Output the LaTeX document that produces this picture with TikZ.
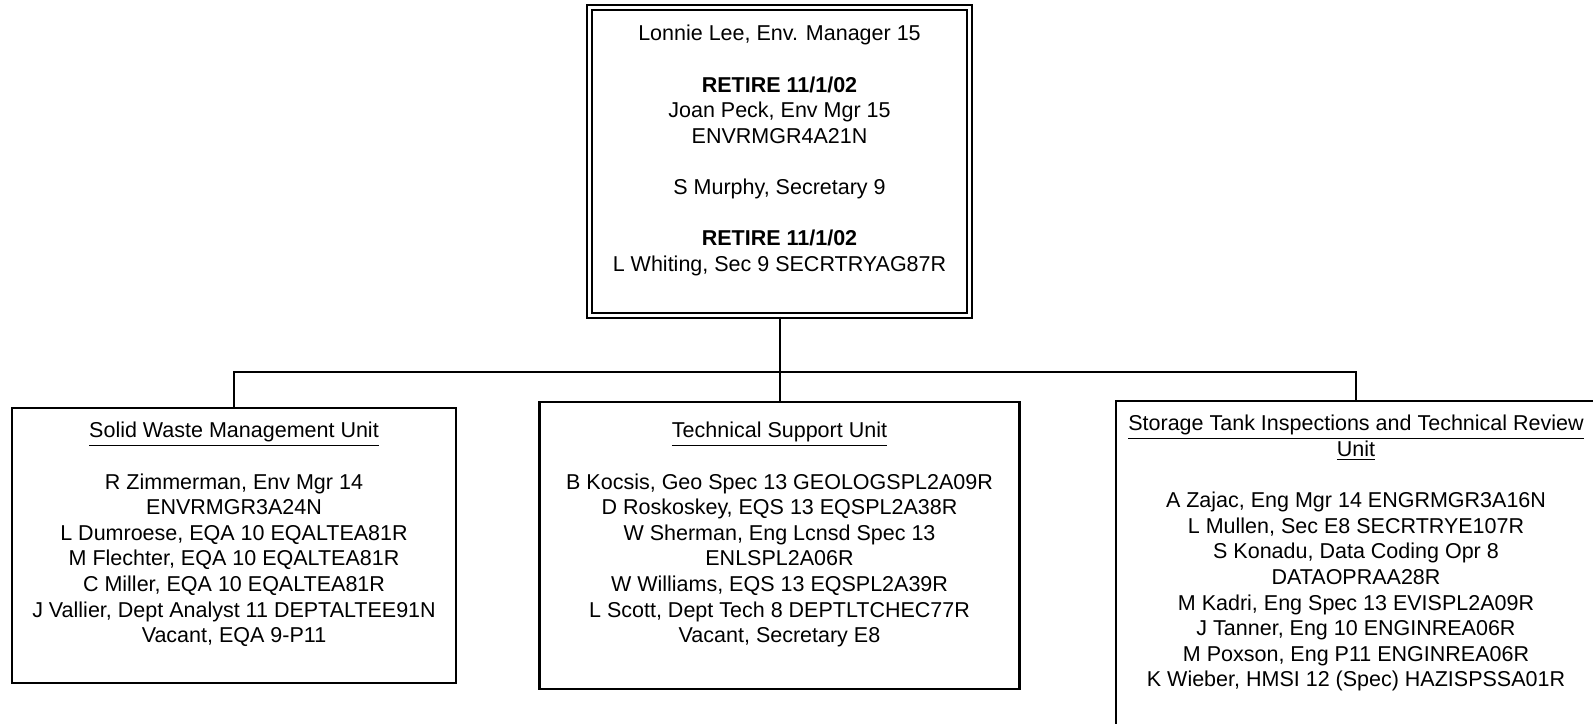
\documentclass[tikz,border=0pt]{standalone}
\usepackage{fontspec}
\setmainfont{Liberation Sans}
\usetikzlibrary{positioning,fit}
\tikzset{%
  unit box/.style={
    draw,
    line width=1.1pt,
    inner sep=0pt
  },
  head box/.style={
    unit box,
    double,
    double distance=1.6pt
  },
  unit text/.style={
    align=center,
    inner sep=0pt,
    anchor=north,
    font=\fontsize{10.75}{12.8}\selectfont,
    execute at begin node=\strut
  },
  link/.style={
    draw,
    line width=1pt
  },
}

\begin{document}
\begin{tikzpicture}[x=0.5pt, y=-0.5pt]
        \useasboundingbox (0,0) rectangle (1593,723);
        \clip (0,0) rectangle (1593,723);

        \node [head box, fit={(589.5,7.5) (969.5,315.5)}] (manager) {};
        \node [unit box, fit={(12,408) (456,683)}] (solid) {};
        \node [unit box, fit={(539.5,402) (1019.5,689)}] (support) {};
        \node [unit box, fit={(1116,401) (1596,745)}] (tank) {};

        \node [unit text] (manager-text) at (779.5,25) {Lonnie Lee, Env. Manager 15\\[12.8pt]
            \textbf{RETIRE 11/1/02}\\Joan Peck, Env Mgr 15\\ENVRMGR4A21N\\[12.8pt]
            S Murphy, Secretary 9\\[12.8pt]
            \textbf{RETIRE 11/1/02}\\L Whiting, Sec 9 SECRTRYAG87R};
        \node [unit text] (solid-text) at (234,422) {\underline{Solid Waste Management Unit}\\[12.8pt]
            R Zimmerman, Env Mgr 14\\ENVRMGR3A24N\\L Dumroese, EQA 10 EQALTEA81R\\
            M Flechter, EQA 10 EQALTEA81R\\C Miller, EQA 10 EQALTEA81R\\
            J Vallier, Dept Analyst 11 DEPTALTEE91N\\Vacant, EQA 9-P11};
        \node [unit text] (support-text) at (779.5,422) {\underline{Technical Support Unit}\\[12.8pt]
            B Kocsis, Geo Spec 13 GEOLOGSPL2A09R\\D Roskoskey, EQS 13 EQSPL2A38R\\
            W Sherman, Eng Lcnsd Spec 13\\ENLSPL2A06R\\W Williams, EQS 13 EQSPL2A39R\\
            L Scott, Dept Tech 8 DEPTLTCHEC77R\\Vacant, Secretary E8};
        \node [unit text] (tank-text) at (1356,415) {\underline{Storage Tank Inspections and Technical Review}\\
            \underline{Unit}\\[12.8pt]
            A Zajac, Eng Mgr 14 ENGRMGR3A16N\\L Mullen, Sec E8 SECRTRYE107R\\
            S Konadu, Data Coding Opr 8\\DATAOPRAA28R\\M Kadri, Eng Spec 13 EVISPL2A09R\\
            J Tanner, Eng 10 ENGINREA06R\\M Poxson, Eng P11 ENGINREA06R\\
            K Wieber, HMSI 12 (Spec) HAZISPSSA01R};

        \coordinate (bus) at (779.5,372);
        \draw [link] (manager.south) -- (support.north);
        \draw [link] (solid.north) |- (bus) -| (tank.north);
\end{tikzpicture}
\end{document}
